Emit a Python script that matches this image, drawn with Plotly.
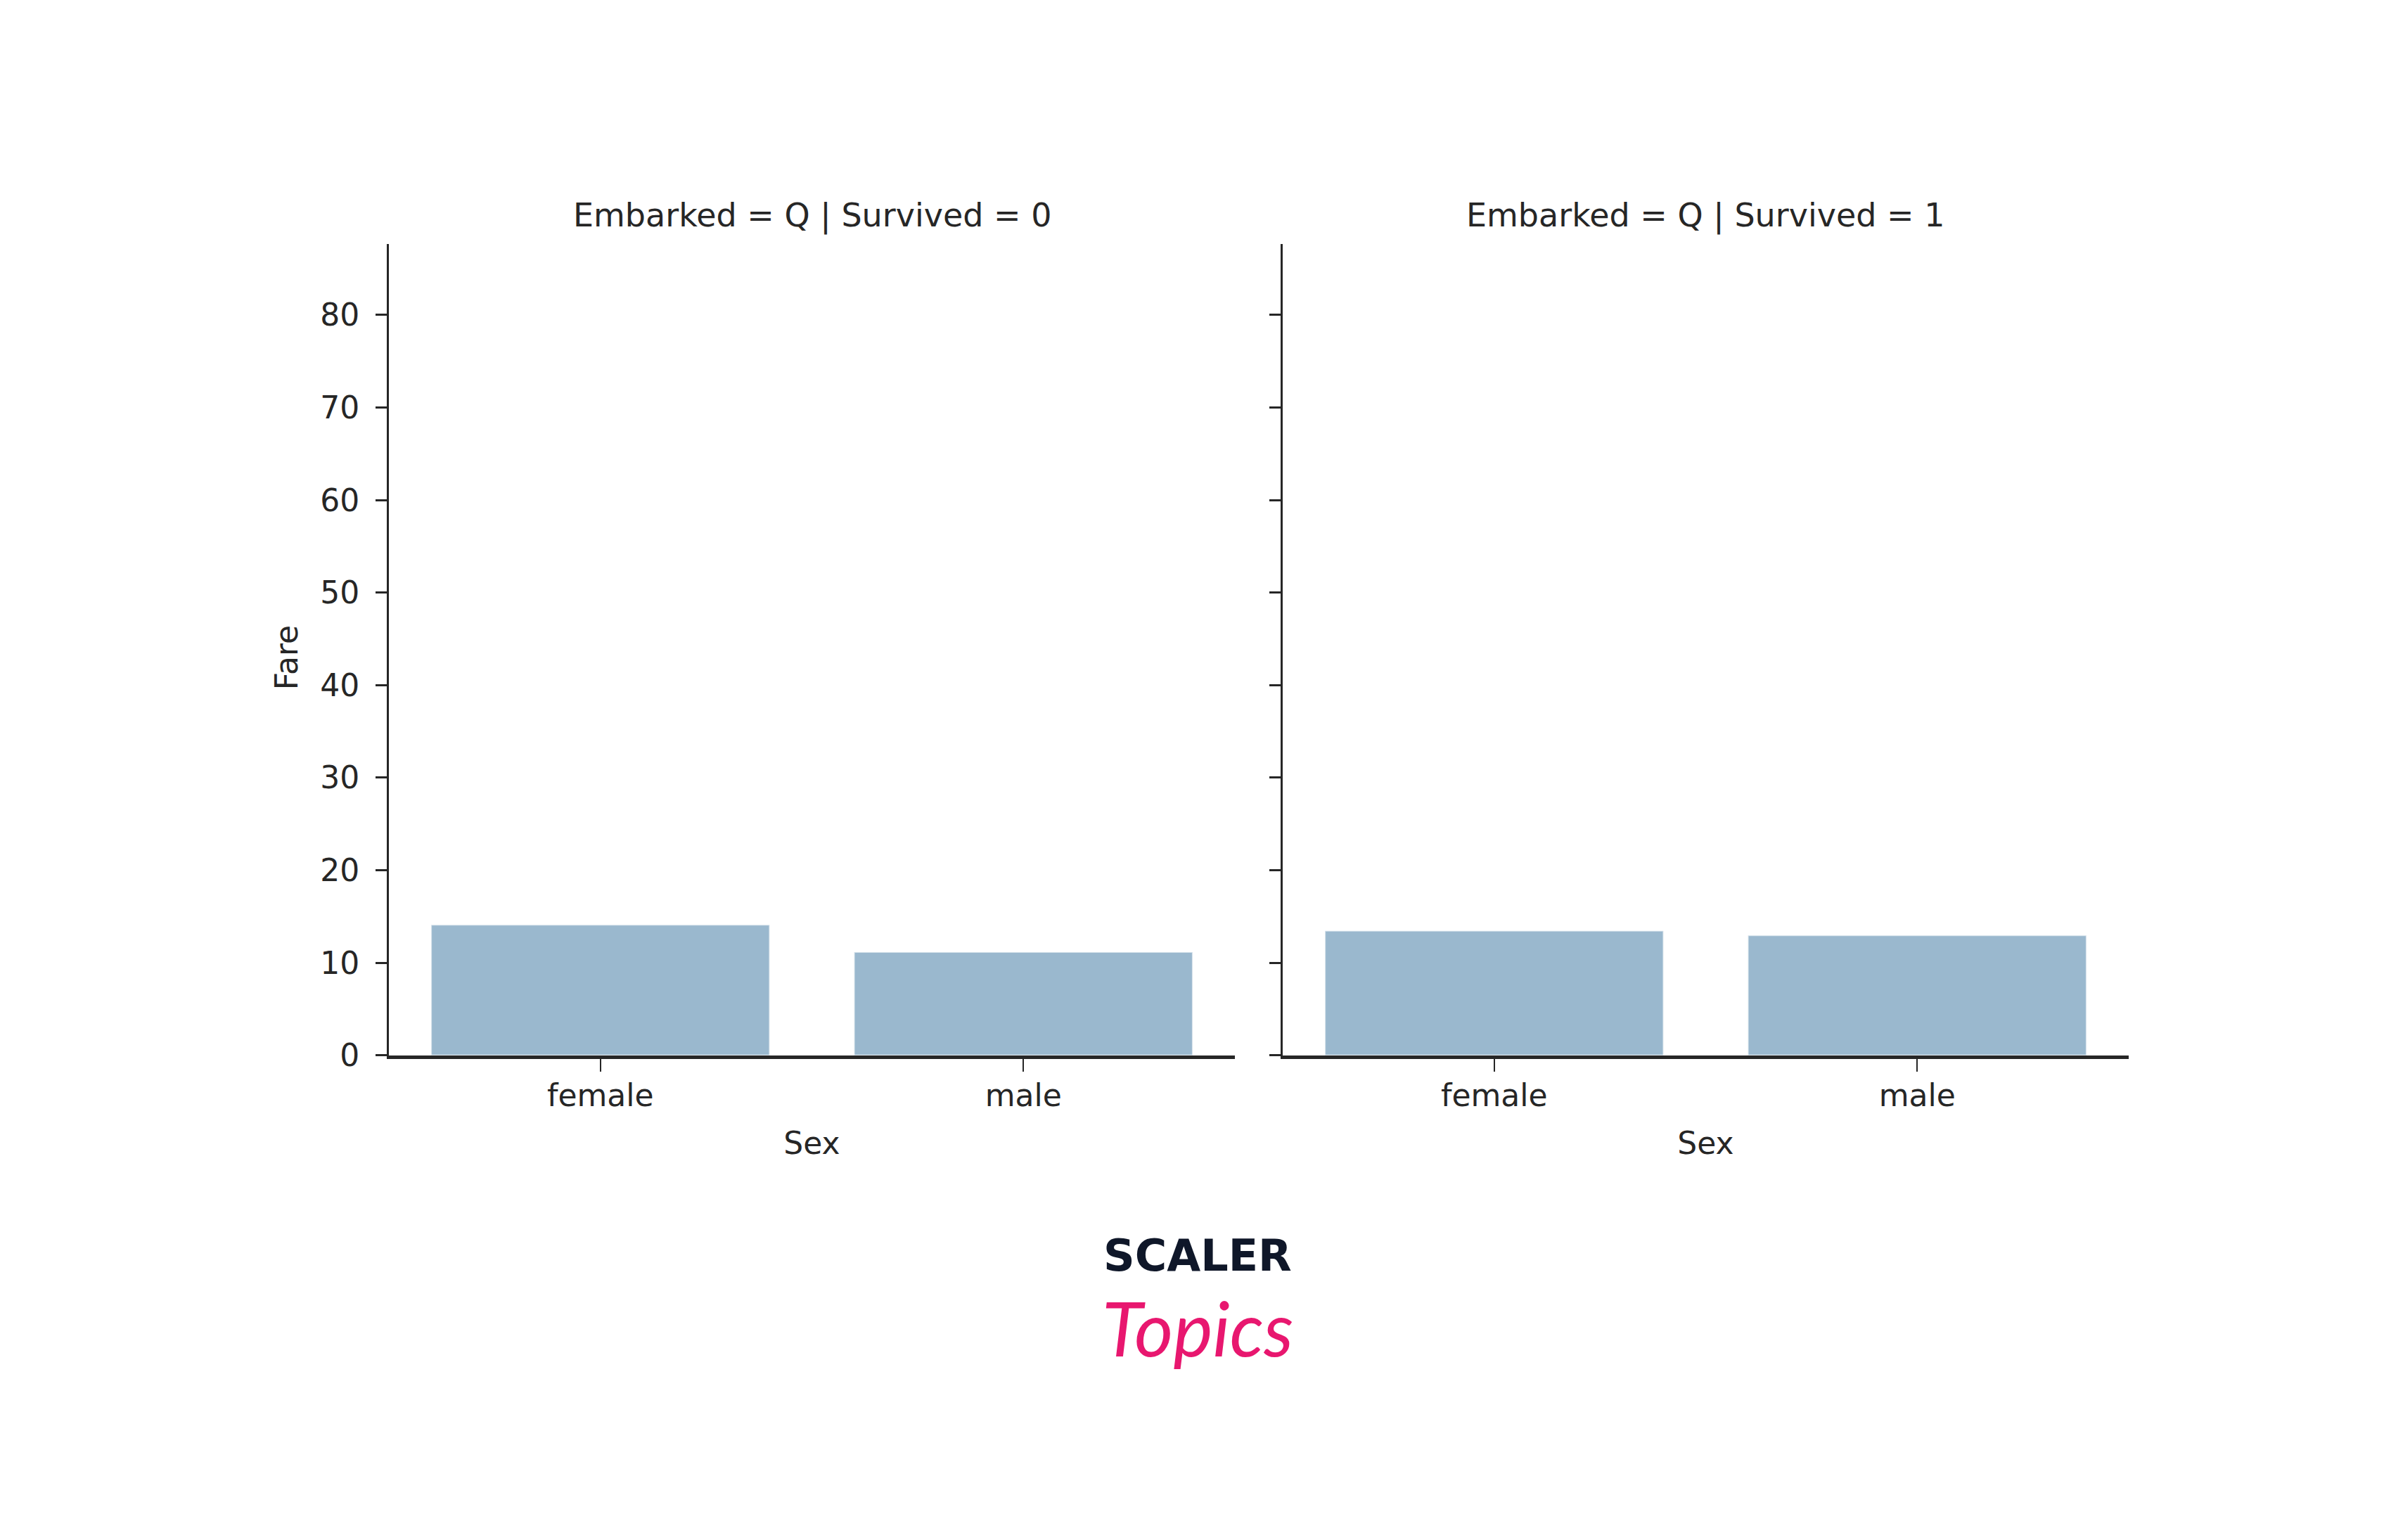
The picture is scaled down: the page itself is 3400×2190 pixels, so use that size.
import plotly.graph_objects as go

# ---- data ----
sex = ["female", "male"]
fare_survived0 = [14.1, 11.15]
fare_survived1 = [13.45, 12.95]
panel_titles = ["Embarked = Q | Survived = 0", "Embarked = Q | Survived = 1"]
y_ticks = [0, 10, 20, 30, 40, 50, 60, 70, 80]

W, H = 3400, 2190
TXT = "#262626"
FONT = "DejaVu Sans"
BAR = "#9ab8ce"

fig = go.Figure()
fig.add_trace(go.Bar(x=sex, y=fare_survived0, xaxis="x", yaxis="y", width=0.8,
                     marker=dict(color=BAR, line=dict(color="rgba(255,255,255,0.55)", width=2)),
                     showlegend=False))
fig.add_trace(go.Bar(x=sex, y=fare_survived1, xaxis="x2", yaxis="y2", width=0.8,
                     marker=dict(color=BAR, line=dict(color="rgba(255,255,255,0.55)", width=2)),
                     showlegend=False))

ydom = [(H - 1510) / H, (H - 343) / H]
xdom1 = [545 / W, 1748 / W]
xdom2 = [1816 / W, 3019 / W]

common_x = dict(range=[-0.5, 1.5], showline=True, linewidth=5, linecolor=TXT,
                ticks="outside", ticklen=18, tickwidth=2, tickcolor=TXT,
                showgrid=False, zeroline=False, ticklabelstandoff=-4,
                tickfont=dict(family=FONT, size=44, color=TXT),
                title=dict(text="Sex", font=dict(family=FONT, size=44, color=TXT), standoff=30))
common_y = dict(range=[0, 87.66], showline=True, linewidth=3, linecolor=TXT,
                ticks="outside", ticklen=16, tickwidth=3, tickcolor=TXT,
                showgrid=False, zeroline=False, tickvals=y_ticks,
                tickfont=dict(family=FONT, size=44, color=TXT))

fig.update_layout(
    width=W, height=H,
    margin=dict(l=0, r=0, t=0, b=0),
    paper_bgcolor="white", plot_bgcolor="white",
    bargap=0.2,
    xaxis=dict(domain=xdom1, anchor="y", **common_x),
    xaxis2=dict(domain=xdom2, anchor="y2", **common_x),
    yaxis=dict(domain=ydom, anchor="x", ticklabelstandoff=14, **common_y),
    yaxis2=dict(domain=ydom, anchor="x2", showticklabels=False, **common_y),
)

# y-axis title
fig.add_annotation(text="Fare", x=399 / W, y=(H - 938) / H, xref="paper", yref="paper",
                   showarrow=False, textangle=-90,
                   font=dict(family=FONT, size=44, color=TXT),
                   xanchor="center", yanchor="middle")

for i, t in enumerate(panel_titles):
    dom = xdom1 if i == 0 else xdom2
    fig.add_annotation(text=t, x=(dom[0] + dom[1]) / 2, y=(H - 302) / H,
                       xref="paper", yref="paper", showarrow=False,
                       font=dict(family=FONT, size=46, color=TXT),
                       xanchor="center", yanchor="middle")

# logo
fig.add_annotation(text="<b>SCALER</b>", x=1695 / W, y=(H - 1798) / H, xref="paper", yref="paper",
                   showarrow=False, font=dict(family="DejaVu Sans", size=62, color="#0f1729"),
                   xanchor="center", yanchor="middle")
fig.add_annotation(text="<i>Topics</i>", x=1695 / W, y=(H - 1902) / H, xref="paper", yref="paper",
                   showarrow=False, font=dict(family="Lato", size=106, color="#e8176f"),
                   xanchor="center", yanchor="middle")

fig.write_html("out.html")
